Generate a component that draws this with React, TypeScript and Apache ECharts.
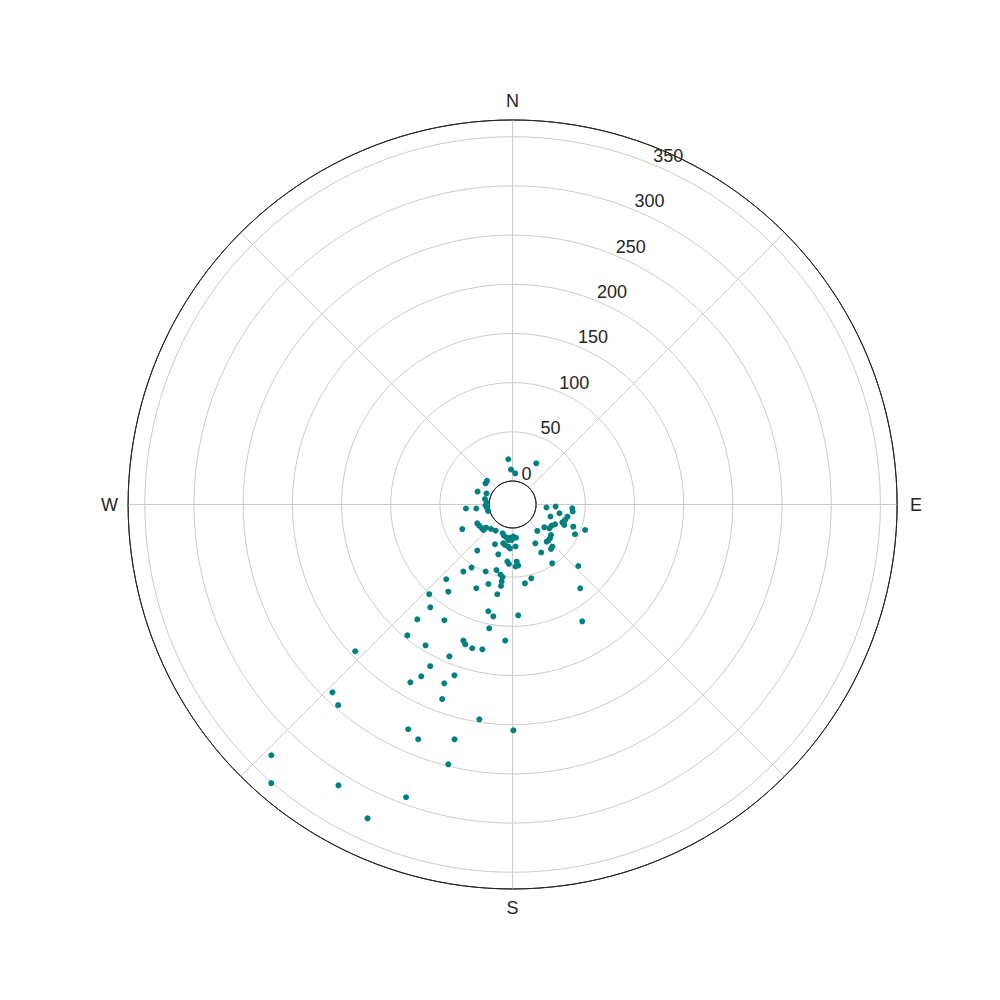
import React, { useEffect, useRef } from "react";
import * as echarts from "echarts";

// Compass direction (degrees, clockwise from north) of each observation
const directions = [
  354.6, 29.9, 357.4, 4.8, 312.9, 308.0, 290.3, 292.9, 281.3, 274.4,
  267.9, 262.2, 255.2, 265.1, 263.7, 244.0, 242.0, 237.5, 232.7, 228.8,
  228.9, 221.4, 212.8, 199.0, 195.4, 190.1, 184.5, 178.8, 174.2, 186.9,
  181.5, 193.5, 190.6, 185.8, 183.4, 176.0, 203.9, 217.5, 196.0, 185.3,
  183.5, 175.9, 174.7, 177.3, 213.1, 216.3, 201.9, 193.8, 189.8, 187.9,
  188.1, 188.1, 196.9, 171.1, 165.8, 95.1, 92.7, 93.6, 96.6, 107.6,
  100.6, 102.5, 106.5, 109.7, 111.6, 115.0, 118.5, 123.0, 125.7, 110.1,
  109.4, 137.0, 115.5, 128.5, 132.1, 135.2, 137.5, 149.7, 136.7, 139.2,
  149.2, 146.0, 133.1, 141.1, 149.2, 221.6, 216.4, 203.4, 189.7, 222.9,
  218.7, 192.8, 189.8, 177.1, 219.7, 210.5, 190.7, 218.8, 199.9, 198.7,
  183.1, 211.7, 195.7, 191.8, 202.6, 207.0, 208.0, 198.8, 209.9, 200.9,
  199.9, 227.0, 223.8, 221.0, 188.8, 179.8, 204.9, 201.9, 193.9, 193.9,
  223.9, 220.9, 211.8, 200.0, 204.8,
];

// Radial value of each observation
const values = [
  22.3, 24.4, 11.7, 7.9, 11.6, 11.1, 14.1, 4.9, 4.7, 2.7,
  3.7, 2.4, 2.0, 23.7, 13.2, 33.0, 16.8, 16.3, 15.6, 15.5,
  12.0, 9.3, 7.8, 7.1, 9.0, 10.4, 10.0, 8.8, 10.1, 12.5,
  12.2, 16.7, 18.0, 19.2, 20.9, 18.9, 20.3, 35.1, 28.8, 34.3,
  36.7, 34.4, 38.4, 39.2, 52.6, 60.7, 49.5, 44.8, 48.3, 50.5,
  55.2, 59.8, 60.6, 57.2, 53.5, 10.7, 19.9, 36.9, 37.6, 16.5,
  24.6, 33.3, 31.7, 29.8, 32.6, 23.7, 21.3, 20.6, 15.8, 41.8,
  54.2, 12.9, 46.4, 26.0, 27.3, 27.7, 27.4, 21.8, 35.0, 35.9,
  32.9, 48.2, 67.6, 85.6, 114.4, 77.7, 86.2, 68.9, 68.7, 100.6,
  110.0, 87.4, 91.5, 88.9, 127.8, 112.7, 104.2, 146.8, 123.2, 126.2,
  114.6, 144.5, 127.9, 126.5, 143.3, 160.6, 173.9, 159.6, 184.6, 170.7,
  186.5, 194.9, 240.7, 246.4, 197.1, 205.7, 228.0, 233.3, 222.0, 248.2,
  329.9, 350.9, 312.1, 292.8, 327.6,
];

const compassLabels: Record<number, string> = {
  0: "N",
  90: "{e|E}",
  180: "S",
  270: "W",
};
const radialMax = 367;
const radialStep = 50;

export default function App() {
  const ref = useRef<HTMLDivElement>(null);

  useEffect(() => {
    if (!ref.current) return;
    const chart = echarts.init(ref.current, undefined, { renderer: "svg" });
    const center = [512.6, 504.5];
    const radius = [23.5, 384.5];
    const textColor = "#262626";
    const font = "Liberation Sans, Arial, sans-serif";
    const gridColors = ["#262626"];
    for (let i = 1; i < 8; i++) gridColors.push("#cccccc");
    gridColors.push("#262626");

    chart.setOption({
      animation: false,
      backgroundColor: "#ffffff",
      polar: [
        { center, radius },
        { center, radius },
      ],
      angleAxis: [
        {
          polarIndex: 0,
          type: "value",
          min: 0,
          max: 360,
          interval: 45,
          startAngle: 90,
          clockwise: true,
          axisLine: { show: true, lineStyle: { color: "#262626", width: 1 } },
          axisTick: { show: false },
          splitLine: { show: true, lineStyle: { color: "#cccccc", width: 1 } },
          axisLabel: {
            show: true,
            margin: 10,
            color: textColor,
            fontSize: 18,
            fontFamily: font,
            formatter: (v: number) => compassLabels[v] ?? "",
            rich: {
              e: {
                color: textColor,
                fontSize: 18,
                fontFamily: font,
                padding: [0, 0, 0, 3],
              },
            },
          },
        },
        {
          polarIndex: 1,
          type: "value",
          min: 0,
          max: 360,
          startAngle: 67.5,
          clockwise: true,
          axisLine: { show: false },
          axisTick: { show: false },
          splitLine: { show: false },
          axisLabel: { show: false },
        },
      ],
      radiusAxis: [
        {
          polarIndex: 0,
          type: "value",
          min: 0,
          max: radialMax,
          interval: radialStep,
          axisLine: { show: false },
          axisTick: { show: false },
          axisLabel: { show: false },
          splitLine: { show: true, lineStyle: { color: gridColors, width: 1 } },
        },
        {
          polarIndex: 1,
          type: "value",
          min: 0,
          max: radialMax,
          interval: radialStep,
          z: 5,
          axisLine: { show: false },
          axisTick: { show: false },
          splitLine: { show: false },
          axisLabel: {
            show: true,
            margin: 0,
            align: "left",
            verticalAlign: "bottom",
            color: textColor,
            fontSize: 18,
            fontFamily: font,
            formatter: (v: number) => (v % radialStep === 0 ? String(v) : ""),
          },
        },
      ],
      series: [
        {
          type: "scatter",
          coordinateSystem: "polar",
          polarIndex: 0,
          symbolSize: 6,
          itemStyle: { color: "#008080", opacity: 1 },
          data: values.map((v, i) => [v, directions[i]]),
        },
      ],
    });
    return () => chart.dispose();
  }, []);

  return (
    <div
      ref={ref}
      style={{ position: "fixed", left: 0, top: 0, width: 1000, height: 1000 }}
    />
  );
}
